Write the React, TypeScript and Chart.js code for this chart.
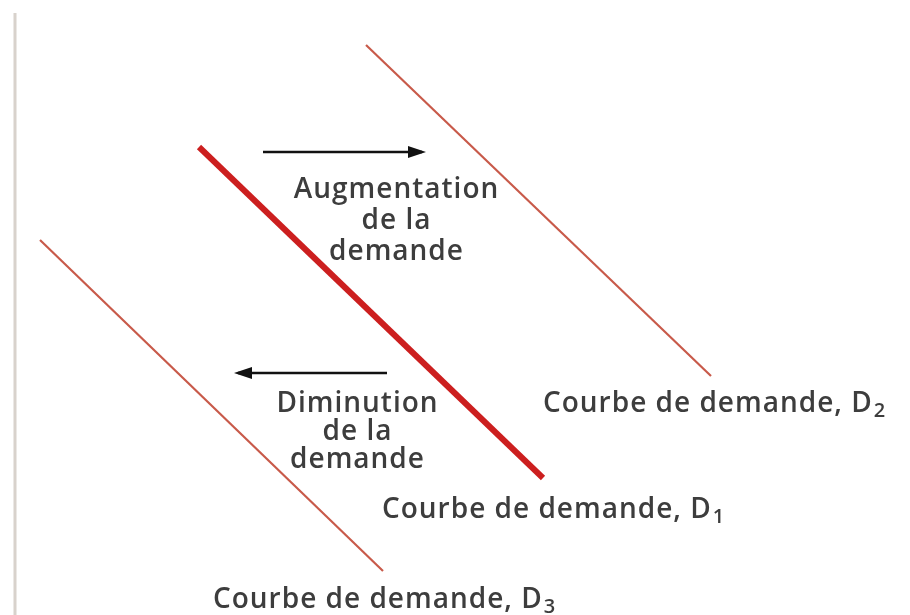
import React, { useEffect, useRef } from "react";
import { Chart, registerables } from "chart.js";

Chart.register(...registerables);

// Quantity (x) / price (y) coordinates of each demand curve's two ends
const curveD2 = [
  { x: 36.6, y: 57.0 },
  { x: 71.1, y: 23.9 },
];
const curveD1 = [
  { x: 19.9, y: 46.8 },
  { x: 54.3, y: 13.7 },
];
const curveD3 = [
  { x: 4.0, y: 37.5 },
  { x: 38.3, y: 4.4 },
];
// Shift arrows
const arrowIncrease = [
  { x: 26.3, y: 46.3 },
  { x: 42.2, y: 46.3 },
];
const arrowDecrease = [
  { x: 38.7, y: 24.2 },
  { x: 23.8, y: 24.2 },
];
const axisX = 1.5;

const labelIncrease = ["Augmentation", "de la", "demande"];
const labelDecrease = ["Diminution", "de la", "demande"];
const curveLabelText = "Courbe de demande, D";
const curveNames = ["2", "1", "3"];

const FONT = "'Open Sans', 'DejaVu Sans', sans-serif";
const TEXT_COLOR = "#3d3d3d";

const annotationPlugin = {
  id: "annotations",
  beforeDatasetsDraw(chart: any) {
    const { ctx, scales } = chart;
    const x = scales.x;
    const y = scales.y;
    ctx.save();
    ctx.strokeStyle = "#d8d2cc";
    ctx.lineWidth = 3;
    ctx.beginPath();
    const ax = x.getPixelForValue(axisX);
    ctx.moveTo(ax, y.getPixelForValue(y.max - 1.3));
    ctx.lineTo(ax, y.getPixelForValue(y.min));
    ctx.stroke();
    ctx.restore();
  },
  afterDatasetsDraw(chart: any) {
    const { ctx, scales } = chart;
    const sx = scales.x;
    const sy = scales.y;
    ctx.save();
    // arrow heads
    const heads = [arrowIncrease, arrowDecrease];
    ctx.fillStyle = "#111";
    heads.forEach((a) => {
      const p0 = a[0];
      const p1 = a[1];
      const x0 = sx.getPixelForValue(p0.x);
      const x1 = sx.getPixelForValue(p1.x);
      const y1 = sy.getPixelForValue(p1.y);
      const dir = x1 > x0 ? 1 : -1;
      ctx.beginPath();
      ctx.moveTo(x1 + dir * 4, y1);
      ctx.lineTo(x1 - dir * 14, y1 - 6);
      ctx.lineTo(x1 - dir * 14, y1 + 6);
      ctx.closePath();
      ctx.fill();
    });

    ctx.fillStyle = TEXT_COLOR;
    ctx.textBaseline = "alphabetic";
    ctx.font = `600 28px ${FONT}`;
    (ctx as any).letterSpacing = "1px";
    ctx.textAlign = "center";
    // increase label
    const ix = sx.getPixelForValue((arrowIncrease[0].x + arrowIncrease[1].x) / 2) + 54;
    const iy = sy.getPixelForValue(arrowIncrease[0].y) + 46;
    labelIncrease.forEach((t, i) => ctx.fillText(t, ix, iy + i * 31));
    const dx = sx.getPixelForValue((arrowDecrease[0].x + arrowDecrease[1].x) / 2) + 45;
    const dy = sy.getPixelForValue(arrowDecrease[0].y) + 39;
    labelDecrease.forEach((t, i) => ctx.fillText(t, dx, dy + i * 28));

    // curve labels
    ctx.textAlign = "left";
    const curves = [curveD2, curveD1, curveD3];
    const offsets = [
      [-168, 36],
      [-161, 40],
      [-170, 37],
    ];
    curves.forEach((c, i) => {
      const end = c[1];
      const px = sx.getPixelForValue(end.x) + offsets[i][0];
      const py = sy.getPixelForValue(end.y) + offsets[i][1];
      ctx.font = `600 28px ${FONT}`;
      ctx.fillText(curveLabelText, px, py);
      const w = ctx.measureText(curveLabelText).width;
      ctx.font = `600 20px ${FONT}`;
      ctx.fillText(curveNames[i], px + w + 1, py + 5);
    });
    ctx.restore();
  },
};

export default function App() {
  const ref = useRef<HTMLCanvasElement>(null);
  useEffect(() => {
    document.body.style.margin = "0";
    const canvas = ref.current;
    if (!canvas) return;
    const thin = "#c85a4a";
    const chart = new Chart(canvas, {
      type: "scatter",
      data: {
        datasets: [
          { data: curveD2, showLine: true, borderColor: thin, borderWidth: 2.2, pointRadius: 0 },
          { data: curveD1, showLine: true, borderColor: "#cc1f1f", borderWidth: 6, pointRadius: 0 },
          { data: curveD3, showLine: true, borderColor: thin, borderWidth: 2.2, pointRadius: 0 },
          { data: arrowIncrease, showLine: true, borderColor: "#111", borderWidth: 2.5, pointRadius: 0 },
          { data: arrowDecrease, showLine: true, borderColor: "#111", borderWidth: 2.5, pointRadius: 0 },
        ],
      },
      options: {
        animation: false,
        responsive: false,
        layout: { padding: 0 },
        plugins: { legend: { display: false }, tooltip: { enabled: false } },
        scales: {
          x: { type: "linear", min: 0, max: 91, display: false },
          y: { type: "linear", min: 0, max: 61.5, display: false },
        },
      },
      plugins: [annotationPlugin],
    });
    return () => chart.destroy();
  }, []);
  return (
    <div style={{ width: 910, height: 615, background: "#fff" }}>
      <canvas ref={ref} width={910} height={615} style={{ display: "block" }} />
    </div>
  );
}
